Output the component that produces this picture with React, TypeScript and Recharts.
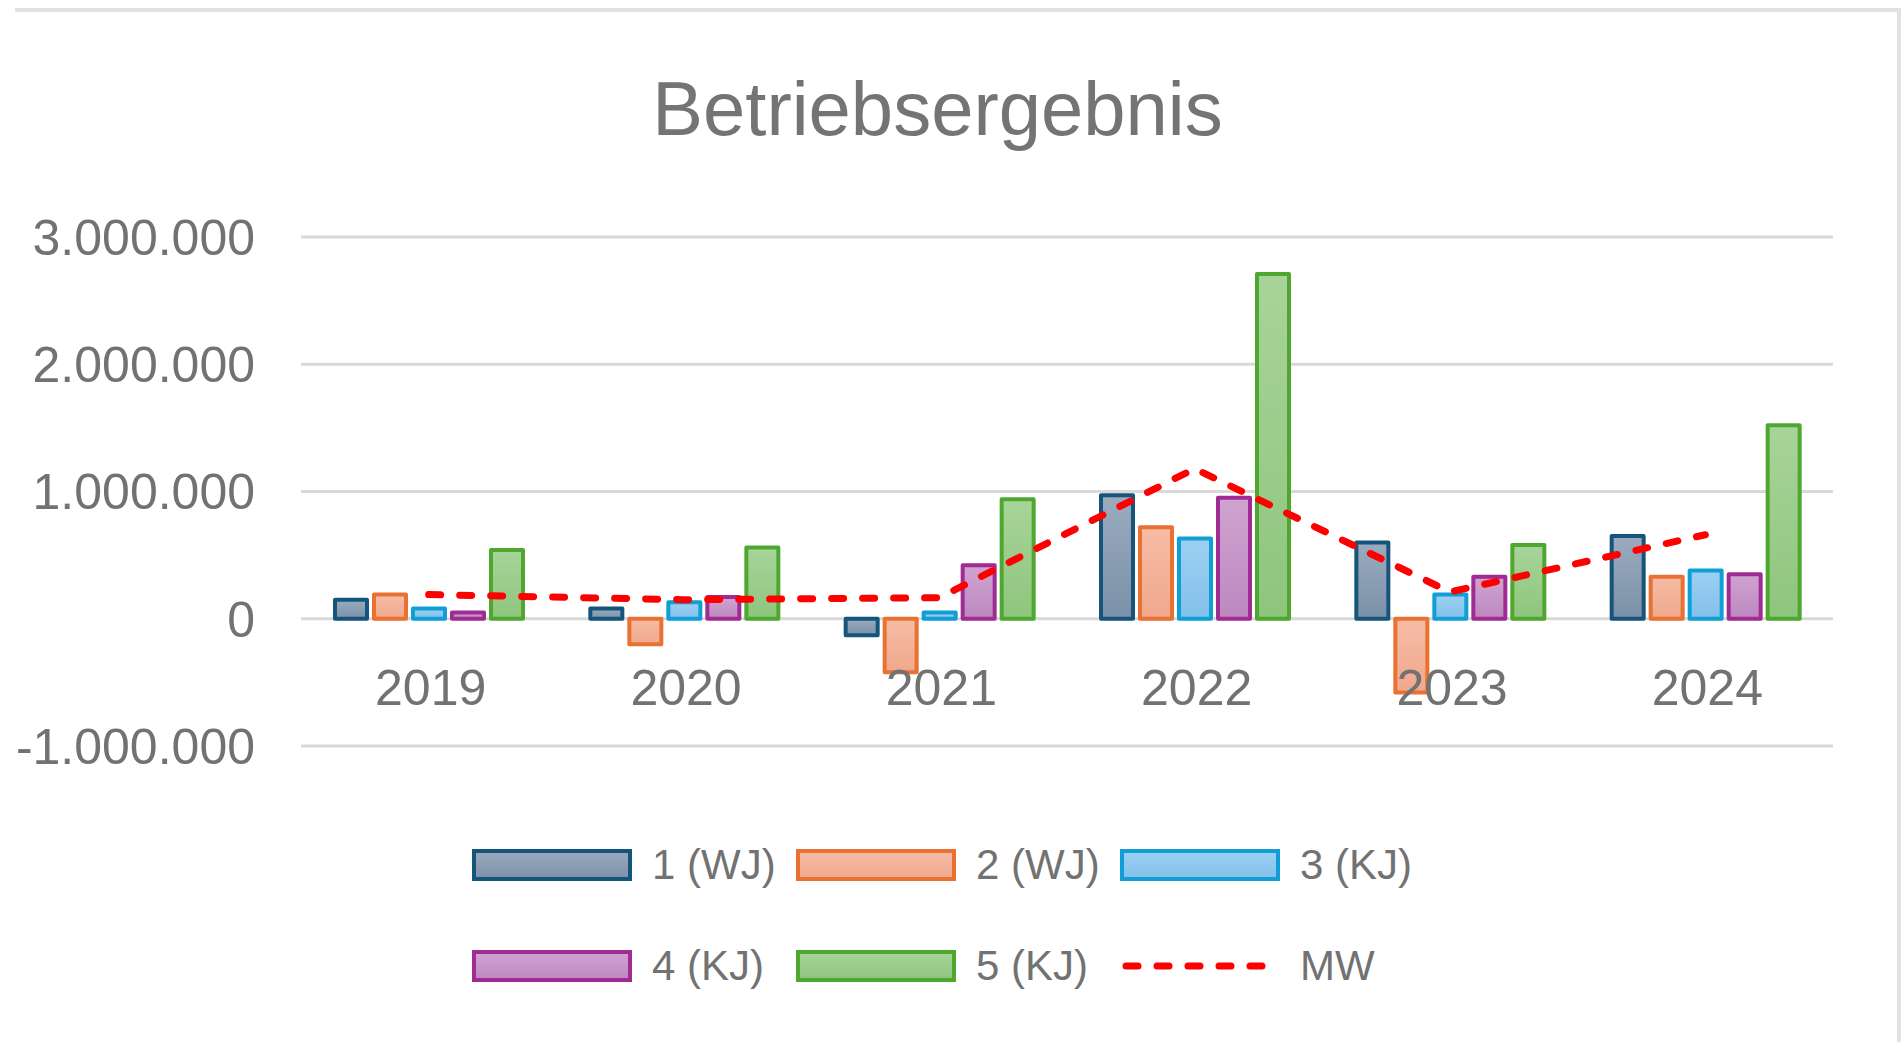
import * as React from 'react';
import {
  ComposedChart,
  Bar,
  Line,
  XAxis,
  YAxis,
  CartesianGrid,
  Legend,
} from 'recharts';

const years = ['2019', '2020', '2021', '2022', '2023', '2024'];
const wj1 = [150000, 80000, -130000, 970000, 600000, 650000];
const wj2 = [190000, -200000, -420000, 720000, -580000, 330000];
const kj3 = [80000, 130000, 50000, 630000, 190000, 380000];
const kj4 = [50000, 170000, 420000, 950000, 330000, 350000];
const kj5 = [540000, 560000, 940000, 2710000, 580000, 1520000];
const mw = [190000, 150000, 165000, 1180000, 210000, 660000];
const yTicks = [-1000000, 0, 1000000, 2000000, 3000000];

const seriesNames = ['1 (WJ)', '2 (WJ)', '3 (KJ)', '4 (KJ)', '5 (KJ)', 'MW'];

const data = years.map((year, i) => ({
  year,
  s1: wj1[i],
  s2: wj2[i],
  s3: kj3[i],
  s4: kj4[i],
  s5: kj5[i],
  mw: mw[i],
}));

const FONT = '"Liberation Sans", Arial, sans-serif';
const TEXT = '#727272';

// stroke, gradient top, gradient bottom
const barStyles = [
  { key: 's1', stroke: '#15557c', top: '#9aabbe', bottom: '#7b91a8' },
  { key: 's2', stroke: '#e97132', top: '#f6bca6', bottom: '#f0a88c' },
  { key: 's3', stroke: '#0f9ed5', top: '#9dd0f2', bottom: '#82c0ea' },
  { key: 's4', stroke: '#a02b93', top: '#d0a3d0', bottom: '#bd88c0' },
  { key: 's5', stroke: '#4ea72e', top: '#a8d49a', bottom: '#8ec57d' },
];

const fmt = (v: number) => {
  const s = Math.abs(v)
    .toString()
    .replace(/\B(?=(\d{3})+(?!\d))/g, '.');
  return v < 0 ? '-' + s : s;
};

const XTick = (props: any) => {
  const { x, y, payload } = props;
  return (
    <text
      x={x + 2}
      y={y - 41}
      textAnchor="middle"
      fill={TEXT}
      fontSize={50}
      fontFamily={FONT}
    >
      {payload.value}
    </text>
  );
};

const LegendBox = () => {
  const cols = [473, 797, 1121];
  const rows = [89, 190];
  return (
    <div style={{ position: 'relative', width: 1903, height: 266 }}>
      {seriesNames.map((name, i) => {
        const left = cols[i % 3];
        const top = rows[Math.floor(i / 3)];
        const bar = barStyles[i];
        return (
          <div key={name}>
            <svg
              width={162}
              height={40}
              style={{ position: 'absolute', left: left - 2, top: top - 20 }}
            >
              {bar ? (
                <rect
                  x={3}
                  y={6}
                  width={156}
                  height={28}
                  fill={`url(#g${i})`}
                  stroke={bar.stroke}
                  strokeWidth={4}
                />
              ) : (
                <line
                  x1={7}
                  y1={20}
                  x2={157}
                  y2={20}
                  stroke="#ff0000"
                  strokeWidth={7}
                  strokeLinecap="round"
                  strokeDasharray="12 19"
                />
              )}
            </svg>
            <span
              style={{
                position: 'absolute',
                left: left + 179,
                top: top - 25,
                fontFamily: FONT,
                fontSize: 42,
                lineHeight: '50px',
                color: TEXT,
                whiteSpace: 'nowrap',
              }}
            >
              {name}
            </span>
          </div>
        );
      })}
    </div>
  );
};

export default function App() {
  return (
    <div
      style={{
        position: 'absolute',
        left: 0,
        top: 0,
        width: 1903,
        height: 1042,
        background: '#ffffff',
        overflow: 'hidden',
      }}
    >
      <div
        style={{
          position: 'absolute',
          left: 15,
          top: 8,
          width: 1882,
          height: 1100,
          borderTop: '4px solid #e2e2e2',
          borderRight: '4px solid #e2e2e2',
        }}
      />
      <div
        style={{
          position: 'absolute',
          left: 0,
          top: 71,
          width: 1875,
          textAlign: 'center',
          fontFamily: FONT,
          fontSize: 76,
          lineHeight: '75px',
          color: '#747474',
        }}
      >
        Betriebsergebnis
      </div>
      <ComposedChart
        width={1903}
        height={1042}
        data={data}
        margin={{ top: 237, right: 70, bottom: 0, left: 0 }}
        barSize={32}
        barGap={7}
      >
        <defs>
          {barStyles.map((b, i) => (
            <linearGradient key={b.key} id={`g${i}`} x1="0" y1="0" x2="0" y2="1">
              <stop offset="0%" stopColor={b.top} />
              <stop offset="100%" stopColor={b.bottom} />
            </linearGradient>
          ))}
        </defs>
        <CartesianGrid
          horizontal
          vertical={false}
          stroke="#d9d9d9"
          strokeWidth={3}
        />
        <XAxis
          dataKey="year"
          axisLine={false}
          tickLine={false}
          tickSize={0}
          tickMargin={0}
          interval={0}
          height={30}
          tick={<XTick />}
        />
        <YAxis
          domain={[-1000000, 3000000]}
          ticks={yTicks}
          width={301}
          axisLine={false}
          tickLine={false}
          tickSize={0}
          tickMargin={46}
          tickFormatter={fmt}
          tick={{ fill: TEXT, fontSize: 50, fontFamily: FONT }}
        />
        <Legend
          verticalAlign="bottom"
          wrapperStyle={{ left: 0, bottom: 0, width: 1903, height: 266 }}
          content={() => <LegendBox />}
        />
        {barStyles.map((b, i) => (
          <Bar
            key={b.key}
            dataKey={b.key}
            name={seriesNames[i]}
            fill={`url(#g${i})`}
            stroke={b.stroke}
            strokeWidth={4}
            strokeLinejoin="round"
            isAnimationActive={false}
          />
        ))}
        <Line
          type="linear"
          dataKey="mw"
          name="MW"
          stroke="#ff0000"
          strokeWidth={7}
          strokeLinecap="round"
          strokeDasharray="12 19"
          dot={false}
          activeDot={false}
          isAnimationActive={false}
        />
      </ComposedChart>
    </div>
  );
}
